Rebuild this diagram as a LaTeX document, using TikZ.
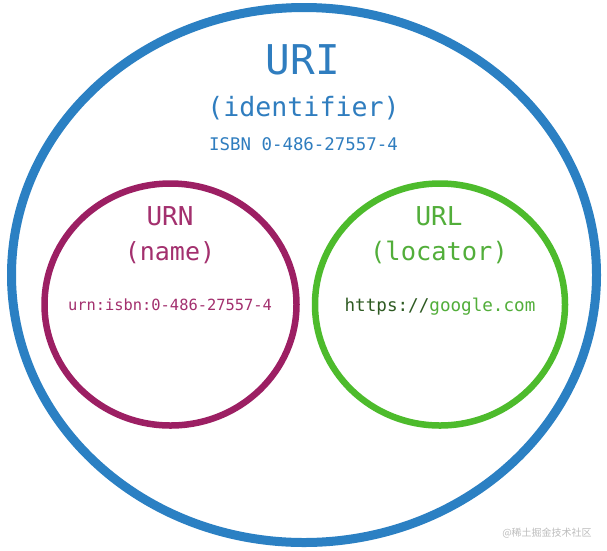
\documentclass[tikz,border=0pt]{standalone}
\usepackage{fontspec}
\setmonofont{DejaVu Sans Mono}
\newfontfamily\cjk{Noto Sans CJK SC}
\usetikzlibrary{shapes.geometric}
\definecolor{uriblue}{HTML}{2B80C3}
\definecolor{uritext}{HTML}{2F7DBF}
\definecolor{urnpurple}{HTML}{9C1F63}
\definecolor{urntext}{HTML}{A3306E}
\definecolor{urlgreen}{HTML}{4DBB2C}
\definecolor{urltext}{HTML}{52AE3A}
\definecolor{urldark}{HTML}{2E5A22}
\definecolor{wmgray}{HTML}{BDBDBD}
\tikzset{
  ring/.style={ellipse, inner sep=0pt, fill=none},
  lbl/.style={inner sep=0pt, anchor=base, font=\ttfamily},
}
\newcommand{\fs}[1]{\fontsize{#1}{#1}\selectfont}
\begin{document}
\begin{tikzpicture}[x=1pt,y=-1pt]
\fill[white] (0,0) rectangle (607,550);
\useasboundingbox (0,0) rectangle (607,550);
\node[ring, draw=uriblue, line width=9pt, minimum width=585pt, minimum height=535pt] (uri) at (304,275) {};
\node[ring, draw=urnpurple, line width=6.5pt, minimum width=252pt, minimum height=242pt] (urn) at (170.5,304.5) {};
\node[ring, draw=urlgreen, line width=6.5pt, minimum width=250pt, minimum height=242pt] (url) at (440,304.5) {};
% URI texts
\node[lbl, text=uritext, font=\ttfamily\fs{41}] (uriT) at (303,74.5) {URI};
\node[lbl, text=uritext, font=\ttfamily\fs{26.6}] (uriI) at (303.5,116) {(identifier)};
\node[lbl, text=uritext, font=\ttfamily\fs{17.4}] (uriE) at (303.5,150.4) {ISBN 0-486-27557-4};
% URN texts
\node[lbl, text=urntext, font=\ttfamily\fs{26}] (urnT) at (170,225) {URN};
\node[lbl, text=urntext, font=\ttfamily\fs{25}] (urnN) at (170,260) {(name)};
\node[lbl, text=urntext, font=\ttfamily\fs{15.4}] (urnE) at (170,310.4) {urn:isbn:0-486-27557-4};
% URL texts
\node[lbl, text=urltext, font=\ttfamily\fs{26}] (urlT) at (439,225) {URL};
\node[lbl, text=urltext, font=\ttfamily\fs{25.4}] (urlN) at (439,260) {(locator)};
\node[lbl, font=\ttfamily\fs{17.6}] (urlE) at (440,311) {\textcolor{urldark}{https://}\textcolor{urltext}{google.com}};
% watermark
\node[inner sep=0pt, anchor=center, text=wmgray, font=\cjk\fs{10}] (wm) at (547,533.5) {@稀土掘金技术社区};
\end{tikzpicture}
\end{document}
